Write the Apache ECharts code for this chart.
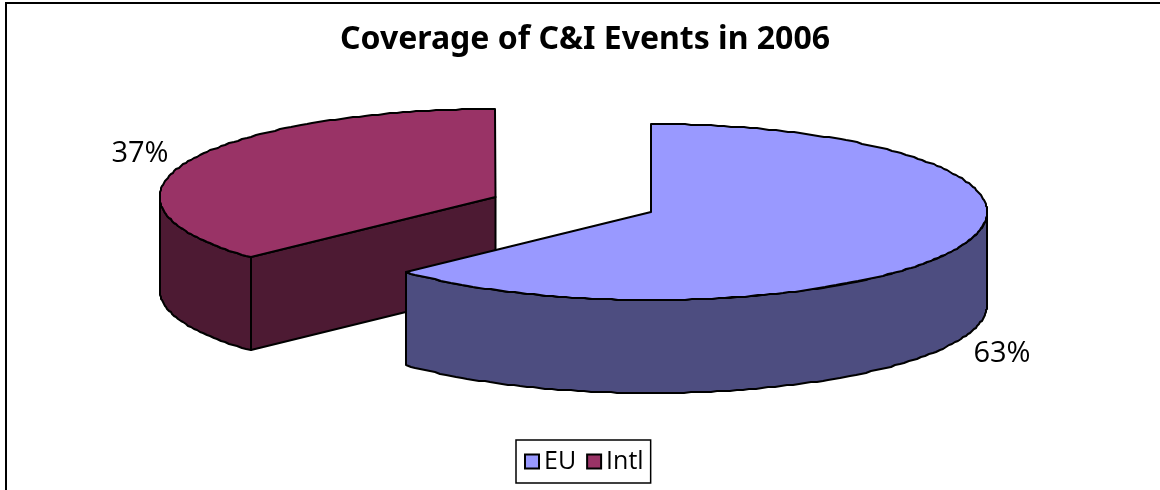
<!DOCTYPE html>
<html><head><meta charset="utf-8">
<style>html,body{margin:0;padding:0;background:#fff}#c{width:1160px;height:490px}</style>
<script src="https://cdn.jsdelivr.net/npm/echarts@6/dist/echarts.min.js"></script>
</head><body><div id="c"></div>
<script>
var categories = ['EU', 'Intl'];
var shareValues = [63, 37];
var topColors = ['#9999ff', '#993366'];
var sideColors = ['#4d4d80', '#4d1a33'];

var total = shareValues.reduce(function (a, b) { return a + b; }, 0);
var RX = 336, RY = 88, DEPTH = 93;
var centers = [[651, 212], [495.5, 197]];
var labelPos = [[1002, 354], [140, 154]];

function pt(c, t, dy) {
  return [Math.round(c[0] + RX * Math.sin(t)), Math.round(c[1] - RY * Math.cos(t) + (dy || 0))];
}
function arc(c, a, b, dy) {
  var n = Math.max(2, Math.ceil(Math.abs(b - a) / 0.02)), out = [];
  for (var i = 0; i <= n; i++) out.push(pt(c, a + (b - a) * i / n, dy));
  return out;
}
function poly(points, fill) {
  return { type: 'polygon', shape: { points: points },
    style: { fill: fill, stroke: '#000', lineWidth: 2, lineJoin: 'round' } };
}
function renderSlice(seriesIdx) {
  return function (params, api) {
    var before = 0;
    for (var k = 0; k < seriesIdx; k++) before += shareValues[k];
    var a = before / total * 2 * Math.PI;
    var b = (before + api.value(0)) / total * 2 * Math.PI;
    var c = centers[seriesIdx];
    var kids = [];
    var cutA = pt(c, a, 0);
    if (a > Math.PI) {
      kids.push(poly([c, cutA, pt(c, a, DEPTH), [c[0], c[1] + DEPTH]], sideColors[seriesIdx]));
    }
    var fa = Math.max(a, Math.PI / 2), fb = Math.min(b, 3 * Math.PI / 2);
    if (fb > fa) {
      var wall = arc(c, fa, fb, 0).concat(arc(c, fb, fa, DEPTH));
      kids.push(poly(wall, sideColors[seriesIdx]));
    }
    kids.push(poly([c].concat(arc(c, a, b, 0)), topColors[seriesIdx]));
    kids.push({ type: 'text', style: {
      x: labelPos[seriesIdx][0], y: labelPos[seriesIdx][1],
      text: Math.round(api.value(0) / total * 100) + '%',
      fill: '#000', font: '29px "Open Sans"', align: 'center', verticalAlign: 'middle' } });
    return { type: 'group', children: kids };
  };
}
var order = [1, 0];
var option = {
  animation: false,
  backgroundColor: '#fff',
  title: { text: 'Coverage of C&I Events in 2006', left: 580, top: 19, textAlign: 'center',
    textStyle: { fontFamily: '"Noto Sans"', fontWeight: 'bold', fontSize: 32, color: '#000' } },
  legend: { data: categories, left: 516, top: 440, width: 134, height: 44,
    padding: [9, 7, 9, 8], orient: 'horizontal', itemGap: 10, itemWidth: 14, itemHeight: 14,
    icon: 'rect', borderColor: '#000', borderWidth: 1.5, backgroundColor: '#fff',
    textStyle: { fontFamily: '"Open Sans"', fontSize: 25, color: '#000', padding: [0, 0, 0, 0] },
    itemStyle: { borderColor: '#000', borderWidth: 2 } },
  xAxis: { show: false, type: 'value' },
  yAxis: { show: false, type: 'value' },
  grid: { left: 0, right: 0, top: 0, bottom: 0 },
  graphic: [{ type: 'polyline', silent: true, z: -1,
    shape: { points: [[6, 490], [6, 3], [1160, 3]] },
    style: { stroke: '#000', lineWidth: 2, fill: null } }],
  series: order.map(function (i) {
    return { type: 'custom', name: categories[i], coordinateSystem: 'none',
      silent: true, itemStyle: { color: topColors[i] },
      data: [shareValues[i]], encode: { value: 0 }, renderItem: renderSlice(i) };
  })
};
echarts.init(document.getElementById('c'), null, { renderer: 'canvas' }).setOption(option);
</script></body></html>
